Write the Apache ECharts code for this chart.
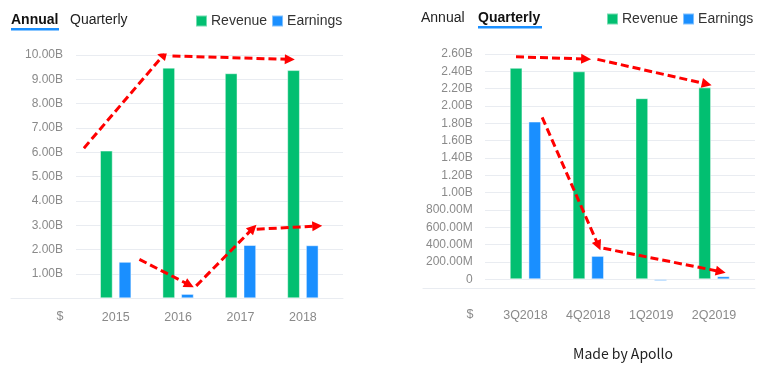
<!DOCTYPE html>
<html>
<head>
<meta charset="utf-8">
<script src="https://cdn.jsdelivr.net/npm/echarts@6/dist/echarts.min.js"></script>
<style>html,body{margin:0;padding:0;background:#fff}#c{width:773px;height:370px}</style>
</head>
<body>
<div id="c"></div>
<script>
// ---- data ----
const annualCats = ['2015', '2016', '2017', '2018'];
const annualRevenue = [6.07, 9.48, 9.25, 9.38];      // billions
const annualEarnings = [1.50, 0.18, 2.19, 2.18];     // billions
const quarterCats = ['3Q2018', '4Q2018', '1Q2019', '2Q2019'];
const quarterRevenue = [2.44, 2.40, 2.09, 2.215];    // billions
const quarterEarnings = [1.82, 0.27, -0.02, 0.035];  // billions
const annualTicks = {min: 0, max: 10, interval: 1};
const quarterTicks = {min: 0, max: 2.6, interval: 0.2};
// annotation arrows in data space [categoryIndex, value]
const annualArrows = [
  [[-0.51, 6.17], [0.78, 10.04]],
  [[0.91, 9.96], [2.79, 9.82]],
  [[0.38, 1.60], [1.18, 0.55]],
  [[1.29, 0.51], [2.20, 2.88]],
  [[2.26, 2.84], [3.23, 2.97]]
];
const quarterArrows = [
  [[-0.15, 2.568], [0.965, 2.542]],
  [[1.145, 2.538], [2.884, 2.253]],
  [[0.266, 1.869], [1.161, 0.388]],
  [[1.24, 0.358], [3.106, 0.088]]
];

const GREEN = '#02BF71', BLUE = '#1A8FFF', RED = '#FF0000';
const GRID_C = '#E9ECF1', LABEL_C = '#8A8A8A';
const FONT = 'Liberation Sans, Arial, sans-serif';

function fmtAnnual(v) { return v === 0 ? '' : v.toFixed(2) + 'B'; }
function fmtQuarter(v) {
  const m = Math.round(v * 1000);
  if (m === 0) return '0';
  if (m >= 1000) return (m / 1000).toFixed(2) + 'B';
  return m.toFixed(2) + 'M';
}

const chart = echarts.init(document.getElementById('c'), null, {renderer: 'canvas'});

const hiddenVal = (gi, extra) => Object.assign({type: 'value', gridIndex: gi, show: false}, extra || {});
const catAxis = (gi, cats, margin) => ({
  type: 'category', gridIndex: gi, data: cats,
  axisLine: {show: false}, axisTick: {show: false},
  axisLabel: {color: LABEL_C, fontSize: 12.5, fontFamily: FONT, margin: margin}
});
const lineAxis = (gi) => ({
  type: 'value', gridIndex: gi, min: 0, max: 1,
  axisLine: {show: true, lineStyle: {color: GRID_C, width: 1}},
  axisTick: {show: false}, axisLabel: {show: false}, splitLine: {show: false}
});
const labelY = (gi, t, fmt, margin) => ({
  type: 'value', gridIndex: gi, min: t.min, max: t.max, interval: t.interval,
  axisLine: {show: false}, axisTick: {show: false},
  axisLabel: {color: LABEL_C, fontSize: 12, fontFamily: FONT, margin: margin, formatter: fmt},
  splitLine: {show: true, lineStyle: {color: GRID_C, width: 1}}
});
const barStyle = (c) => ({color: c, borderColor: 'rgba(255,255,255,0.45)', borderWidth: 1});
const arrowSeries = (xi, yi, arr) => ({
  type: 'lines', coordinateSystem: 'cartesian2d', xAxisIndex: xi, yAxisIndex: yi,
  symbol: ['none', 'triangle'], symbolSize: [10, 10], silent: true, z: 10,
  lineStyle: {color: RED, width: 3, type: [8, 4], opacity: 1},
  data: arr.map(a => ({coords: a}))
});
const legendOf = (left, top) => ({
  left: left, top: top, padding: 0, itemWidth: 11, itemHeight: 11, itemGap: 4, icon: 'rect', selectedMode: false,
  textStyle: {fontSize: 14, color: '#333', fontFamily: FONT, padding: [0, 0, 0, -1]},
  data: ['Revenue', 'Earnings']
});

chart.setOption({
  animation: false,
  backgroundColor: '#fff',
  grid: [
    {left: 84.5, width: 249.6, top: 55, height: 243.3},   // 0 left bars
    {left: 76, width: 267, top: 55, height: 243.3},       // 1 left labels
    {left: 11, width: 332, top: 55, height: 243.3},       // 2 left baseline
    {left: 494, width: 251.5, top: 54, height: 225.3},    // 3 right bars
    {left: 485, width: 270, top: 54, height: 225.3},      // 4 right labels
    {left: 423, width: 332, top: 54, height: 234.3}       // 5 right bottom line
  ],
  xAxis: [
    catAxis(0, annualCats, 12.5),
    hiddenVal(0, {min: -0.5, max: 3.5}),
    hiddenVal(1),
    lineAxis(2),
    catAxis(3, quarterCats, 29.5),
    hiddenVal(3, {min: -0.5, max: 3.5}),
    hiddenVal(4),
    lineAxis(5)
  ],
  yAxis: [
    hiddenVal(0, {min: annualTicks.min, max: annualTicks.max}),
    labelY(1, annualTicks, fmtAnnual, 13),
    hiddenVal(2, {min: 0, max: 1}),
    hiddenVal(3, {min: quarterTicks.min, max: quarterTicks.max}),
    labelY(4, quarterTicks, fmtQuarter, 12.3),
    hiddenVal(5, {min: 0, max: 1})
  ],
  legend: [legendOf(195, 14), legendOf(606, 12)],
  graphic: [
    {type: 'text', style: {text: 'Annual', x: 11, y: 20, font: 'bold 14px ' + FONT, fill: '#111', verticalAlign: 'middle'}},
    {type: 'text', style: {text: 'Quarterly', x: 70, y: 20, font: '14px ' + FONT, fill: '#222', verticalAlign: 'middle'}},
    {type: 'rect', shape: {x: 11, y: 28, width: 48, height: 2.5}, style: {fill: BLUE}},
    {type: 'text', style: {text: 'Annual', x: 421, y: 18, font: '14px ' + FONT, fill: '#222', verticalAlign: 'middle'}},
    {type: 'text', style: {text: 'Quarterly', x: 478, y: 18, font: 'bold 14px ' + FONT, fill: '#111', verticalAlign: 'middle'}},
    {type: 'rect', shape: {x: 478, y: 26, width: 64, height: 2.5}, style: {fill: BLUE}},
    {type: 'text', style: {text: '$', x: 60, y: 317, font: '12.5px ' + FONT, fill: LABEL_C, align: 'center', verticalAlign: 'middle'}},
    {type: 'text', style: {text: '$', x: 470, y: 315, font: '12.5px ' + FONT, fill: LABEL_C, align: 'center', verticalAlign: 'middle'}},
    {type: 'text', style: {text: 'Made by Apollo', x: 623, y: 354, font: '14px "Noto Sans CJK KR", "Noto Sans", sans-serif', fill: '#222', align: 'center', verticalAlign: 'middle'}}
  ],
  series: [
    {name: 'Revenue', type: 'bar', xAxisIndex: 0, yAxisIndex: 0, data: annualRevenue, barWidth: 12.7, barGap: '47%', itemStyle: barStyle(GREEN)},
    {name: 'Earnings', type: 'bar', xAxisIndex: 0, yAxisIndex: 0, data: annualEarnings, barWidth: 12.7, barGap: '47%', itemStyle: barStyle(BLUE)},
    {name: 'Revenue', type: 'bar', xAxisIndex: 4, yAxisIndex: 3, data: quarterRevenue, barWidth: 12.7, barGap: '47%', clip: false, itemStyle: barStyle(GREEN)},
    {name: 'Earnings', type: 'bar', xAxisIndex: 4, yAxisIndex: 3, data: quarterEarnings, barWidth: 12.7, barGap: '47%', clip: false, itemStyle: barStyle(BLUE)},
    arrowSeries(1, 0, annualArrows),
    arrowSeries(5, 3, quarterArrows)
  ]
});
</script>
</body>
</html>
